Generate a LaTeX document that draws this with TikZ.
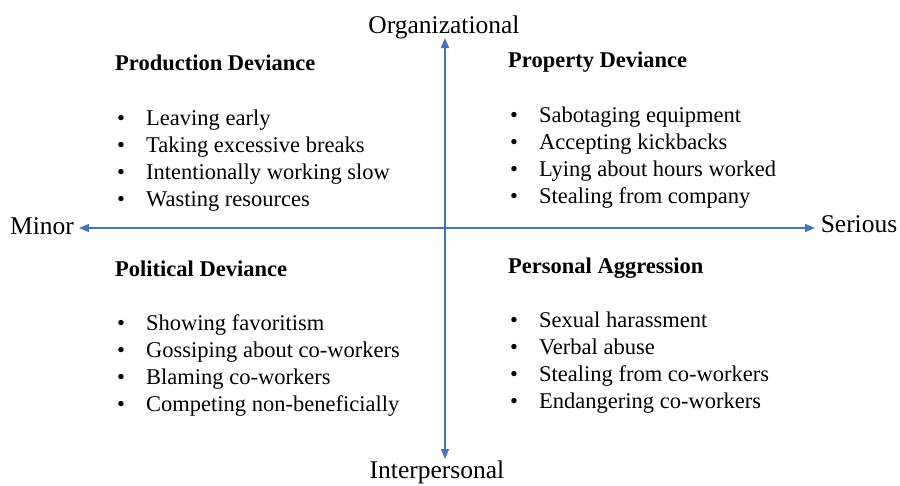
\documentclass[tikz,border=0pt]{standalone}
\usepackage{fontspec}
\setmainfont{Liberation Serif}
\usetikzlibrary{arrows.meta}
\definecolor{axisblue}{HTML}{4472C4}
\tikzset{
  axis/.style={draw=axisblue, line width=1.4pt, -{Triangle[width=8pt,length=10pt]}},
  axislabel/.style={inner sep=0pt, font=\fontsize{25.5}{30}\selectfont},
  heading/.style={anchor=base west, inner sep=0pt, font=\fontsize{22.5}{27}\selectfont\bfseries},
  item/.style={anchor=base west, inner sep=0pt, font=\fontsize{22.5}{27}\selectfont},
  dot/.style={anchor=base west, inner sep=0pt, font=\fontsize{22.5}{27}\selectfont},
}
\begin{document}
\begin{tikzpicture}[x=1pt, y=-1pt]
\useasboundingbox (0,0) rectangle (900,485);
% axes
\coordinate (c) at (445,228);
\coordinate (top) at (445,38);
\coordinate (bot) at (445,459);
\coordinate (lft) at (79,228);
\coordinate (rgt) at (815,228);
\draw[axis] (c) -- (top);
\draw[axis] (c) -- (bot);
\draw[axis] (c) -- (lft);
\draw[axis] (c) -- (rgt);
% axis labels
\node[axislabel] (org) at (444,27) {Organizational};
\node[axislabel] (inter) at (437,472) {Interpersonal};
\node[axislabel] (minor) at (42,226) {Minor};
\node[axislabel] (serious) at (859,224) {Serious};
% quadrant lists: heading, then bulleted items (positions are baselines)
\newcommand\quadlist[5]{%
  \node[heading] at (#1,#2) {#3};
  \foreach \t [count=\i] in {#5} {
    \node[dot] at (#1+2,#2+#4+27*\i-27) {\textbullet};
    \node[item] at (#1+31,#2+#4+27*\i-27) {\t};
  }%
}
\quadlist{115}{70}{Production Deviance}{55}{Leaving early,Taking excessive breaks,Intentionally working slow,Wasting resources}
\quadlist{508}{67}{Property Deviance}{55}{Sabotaging equipment,Accepting kickbacks,Lying about hours worked,Stealing from company}
\quadlist{115}{276}{Political Deviance}{54}{Showing favoritism,Gossiping about co-workers,Blaming co-workers,Competing non-beneficially}
\quadlist{508}{273}{Personal Aggression}{54}{Sexual harassment,Verbal abuse,Stealing from co-workers,Endangering co-workers}
\end{tikzpicture}
\end{document}
